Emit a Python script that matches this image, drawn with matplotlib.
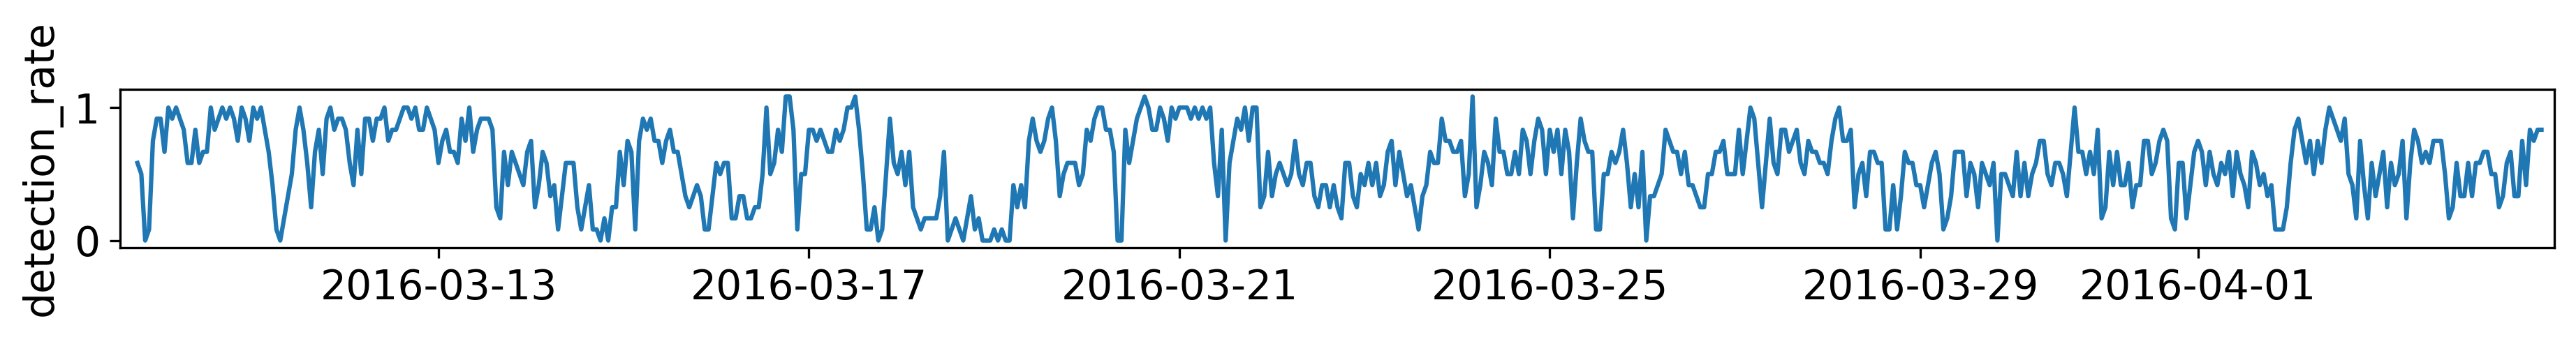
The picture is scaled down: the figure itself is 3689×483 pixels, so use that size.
import numpy as np
import pandas as pd
import matplotlib
matplotlib.use("Agg")
import matplotlib.pyplot as plt
import matplotlib.dates as mdates

# hourly detections out of 12
start_time = "2016-03-09 18:00"
detected_of_12 = [
    7, 6, 0, 1, 9, 11, 11, 8, 12, 11, 12, 11, 10, 7, 7, 10, 7, 8, 8, 12,
    10, 11, 12, 11, 12, 11, 9, 12, 11, 9, 12, 11, 12, 10, 8, 5, 1, 0, 2, 4,
    6, 10, 12, 10, 7, 3, 8, 10, 6, 11, 12, 10, 11, 11, 10, 7, 5, 10,
    6, 11, 11, 9, 11, 11, 12, 9, 10, 10, 11, 12, 12, 11, 12, 10, 10, 12, 11, 10,
    7, 9, 10, 8, 8, 7, 11, 9, 12, 8, 10, 11, 11, 11, 10, 3, 2, 8, 5, 8,
    7, 6, 5, 8, 9, 3, 5, 8, 7, 4, 5, 1, 4, 7, 7, 7, 3, 1, 3, 5,
    1, 1, 0,
    2, 0, 3, 3, 8, 5, 9, 8, 1, 9, 11, 10, 11, 9, 9, 7, 9, 10, 8, 8,
    6, 4, 3, 4, 5, 4, 1, 1, 4, 7, 6, 7, 7, 2, 2, 4, 4, 2, 2, 3,
    3, 6, 12, 6, 7, 10, 8, 13, 13, 10, 1, 6, 6, 10, 10, 9, 10, 9, 8, 8,
    10, 9, 10, 12, 12, 13, 10, 6, 1, 1, 3, 0,
    1, 6, 11, 7, 6, 8, 5, 8, 3, 2, 1, 2, 2, 2, 2, 4, 8, 0, 1, 2,
    1, 0, 2, 4, 1, 2, 0, 0, 0, 1, 0, 1, 0, 0, 5, 3, 5, 3, 9, 11,
    9, 8, 9, 11, 12, 9, 4, 6, 7, 7, 7, 5, 6, 10, 9, 11, 12, 12, 10, 10,
    8, 0, 0, 10, 7, 9, 11, 12, 13, 12, 10, 10,
    12, 11, 9, 12, 11, 12, 12, 12, 11, 12, 11, 12, 11, 12, 7, 4, 10, 0, 7, 9,
    11, 10, 12, 9, 12, 12, 3, 4, 8, 4, 6, 7, 6, 5, 6, 9, 6, 5, 7, 7,
    4, 3, 5, 5, 3, 5, 3, 2, 7, 7, 4, 3, 6, 5, 7, 5, 7, 4, 5, 8,
    9, 5, 8, 6, 4, 5, 3, 1, 4, 5, 8, 7, 7,
    11, 9, 9, 8, 8, 9, 4, 6, 13, 3, 5, 8, 7, 5, 11, 8, 8, 6, 6, 8,
    6, 10, 9, 6, 9, 11, 10, 6, 10, 8, 10, 6, 10, 8, 2, 7, 11, 9, 8, 8,
    1, 1, 6, 6, 8, 7, 8, 10, 7, 3, 6, 3, 8, 0, 4, 4, 5, 6, 10, 9,
    8, 8, 6, 8, 5, 5, 4, 3, 3, 6, 6, 8,
    8, 9, 6, 6, 6, 10, 6, 9, 12, 11, 7, 3, 7, 11, 7, 6, 10, 10, 8, 9,
    10, 7, 6, 9, 8, 8, 7, 7, 6, 9, 11, 12, 9, 9, 10, 3, 6, 7, 4, 8,
    8, 7, 7, 1, 1, 5, 1, 4, 8, 7, 7, 5, 5, 3, 5, 7, 8, 6, 1, 2,
    4, 8, 8, 8, 4, 7, 6, 3, 7, 6, 5, 7, 0,
    6, 6, 5, 4, 8, 4, 7, 4, 6, 7, 9, 9, 6, 5, 7, 7, 6, 4, 8, 12,
    8, 8, 6, 8, 6, 10, 2, 3, 8, 5, 8, 5, 5, 7, 3, 5, 5, 9, 9, 6,
    7, 9, 10, 9, 2, 1, 7, 7, 2, 5, 8, 9, 8, 5, 8, 6, 5, 7, 6, 8,
    4, 8, 6, 5, 3, 8, 7, 5, 6, 4, 5, 1,
    1, 1, 3, 7, 10, 11, 9, 7, 9, 6, 9, 7, 10, 12, 11, 10, 9, 11, 6, 5,
    2, 9, 5, 2, 7, 4, 6, 8, 3, 7, 5, 6, 9, 2, 7, 10, 9, 7, 8, 7,
    9, 9, 9, 6, 2, 3, 7, 4, 4, 7, 4, 7, 7, 8, 8, 6, 6, 3, 4, 7,
    8, 4, 4, 9, 5, 10, 9, 10, 10,
]
x_start = "2016-03-09 13:30"
x_end = "2016-04-04 20:20"
tick_days = [1, 5, 9, 13, 17, 21, 25, 29]

timestamps = pd.date_range(start_time, periods=len(detected_of_12), freq="h")
detection_rate = np.array(detected_of_12) / 12.0

fig = plt.figure(figsize=(3689 / 300, 483 / 300), dpi=300)
ax = fig.add_axes([172 / 3689, 1 - 355 / 483, (3658 - 172) / 3689, 227 / 483])

ax.plot(timestamps, detection_rate, color="#1f77b4", lw=1.5)

ax.set_xlim(pd.Timestamp(x_start), pd.Timestamp(x_end))
ax.xaxis.set_major_locator(mdates.DayLocator(bymonthday=tick_days))
ax.xaxis.set_major_formatter(mdates.DateFormatter("%Y-%m-%d"))
ax.set_yticks([0, 1])
ax.set_ylabel("detection_rate", fontsize=14)
ax.tick_params(labelsize=14)

fig.savefig("out.png", dpi=300, facecolor="white")
